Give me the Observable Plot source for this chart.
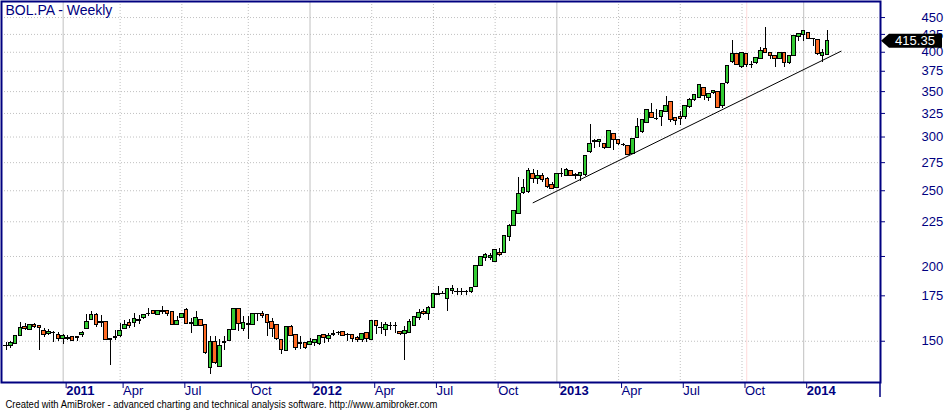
<!DOCTYPE html>
<html><head><meta charset="utf-8">
<script src="https://cdn.jsdelivr.net/npm/d3@7"></script>
<script src="https://cdn.jsdelivr.net/npm/@observablehq/plot@0.6"></script>
<style>body{margin:0;background:#fff;} #chart{width:949px;height:411px;}</style>
</head><body><div id="chart"></div>
<script>
// ---- data (weekly bars, Friday dates) ----
const title = "BOL.PA - Weekly";
const footer = "Created with AmiBroker - advanced charting and technical analysis software. http://www.amibroker.com";
const firstWeek = "2010-10-15";
const opens = [
147.4,147.5,148.5,152.8,157.6,155.7,158.6,157.9,155.5,153.8,
154.2,153.3,151.2,151.9,152.4,151.9,153.1,156.2,161.1,164.1,
159.7,160.3,150.5,151.7,152.6,156.2,159.5,159.4,160.6,162.3,
164.4,166.3,163.8,165.5,166.3,165.7,158.6,162.3,166.5,159.3,
158.0,161.2,158.6,137.0,149.8,137.4,149.3,150.0,155.9,167.4,
156.6,158.7,158.4,164.4,164.6,164.0,160.3,158.5,150.4,145.3,
157.6,153.4,148.8,149.3,148.0,149.0,148.5,153.3,151.2,153.4,
154.1,154.8,153.1,153.3,151.9,150.7,154.0,150.5,160.6,156.7,
155.7,157.8,158.1,154.8,153.6,154.1,157.7,162.3,165.7,164.8,
168.0,175.4,175.9,173.1,177.7,177.0,177.3,177.0,177.2,180.5,
193.5,199.3,199.3,196.3,202.5,202.4,213.5,221.6,231.2,248.2,
248.7,264.8,260.0,262.4,260.3,254.5,252.4,264.5,262.6,266.9,
263.5,262.6,263.5,284.9,294.7,295.3,292.5,289.2,303.3,296.5,
292.2,291.2,283.0,299.2,305.0,314.8,325.7,318.8,320.9,326.9,
338.0,320.2,321.6,320.9,332.2,340.7,342.7,354.5,342.7,348.4,
350.0,333.0,360.1,386.7,397.9,381.1,397.4,383.5,385.4,391.2,
403.8,399.3,395.2,391.2,399.3,385.4,395.6,421.0,424.6,427.1,
419.0,416.3,394.3,396.5];
const highs = [
149.6,150.1,153.2,159.7,159.1,158.9,159.4,158.3,156.5,156.2,
155.1,154.3,153.5,152.8,152.6,152.2,155.1,164.1,165.9,164.8,
163.7,160.5,151.3,155.5,159.4,160.9,161.5,164.9,163.7,164.5,
167.4,166.5,166.5,168.7,166.6,166.0,163.1,165.0,167.4,162.2,
165.9,161.5,158.9,152.4,152.4,150.8,152.4,156.3,167.6,167.8,
163.2,163.2,164.8,164.8,166.0,164.4,162.3,158.8,150.6,157.8,
158.0,153.6,152.3,149.5,151.5,151.0,153.2,153.5,154.2,155.5,
155.0,155.0,154.0,153.5,152.5,154.0,154.2,160.8,160.8,160.1,
160.0,160.0,159.9,155.2,157.7,161.6,163.2,166.9,166.9,168.5,
176.6,180.5,177.6,179.2,181.0,179.4,179.4,178.0,180.3,193.8,
200.0,202.0,202.2,205.0,205.2,214.8,222.8,233.8,261.2,259.7,
269.9,269.0,267.5,264.8,261.5,257.5,265.0,269.9,269.9,267.5,
264.8,266.0,282.0,313.0,297.9,296.8,293.0,306.0,304.0,297.5,
293.0,291.8,298.0,319.1,317.5,329.5,336.5,329.0,328.0,344.2,
339.0,321.0,327.3,334.0,341.5,347.0,359.0,355.0,348.0,351.0,
350.5,360.0,383.0,416.3,398.5,400.0,398.0,387.0,392.5,406.1,
435.5,400.0,396.0,400.0,400.0,396.0,423.0,426.0,430.0,428.0,
419.5,416.5,403.3,430.7];
const lows = [
145.6,146.5,148.2,152.5,155.5,155.5,156.4,145.3,152.1,152.9,
149.5,149.8,148.5,150.5,149.8,150.1,151.8,156.0,160.8,156.9,
157.0,150.5,138.2,150.5,151.9,156.2,156.6,157.0,159.0,161.6,
163.3,164.0,163.6,164.4,163.3,158.0,158.4,161.8,158.7,154.1,
157.8,157.7,143.5,133.8,138.5,137.0,145.3,149.8,155.7,155.1,
155.3,150.7,158.2,160.5,161.9,152.5,151.9,150.5,143.3,145.0,
152.6,145.5,145.8,146.0,147.8,147.5,148.0,149.0,149.2,152.2,
153.2,152.3,150.0,149.2,149.3,149.5,149.6,150.2,153.6,153.3,
152.2,155.8,153.8,153.0,140.5,153.8,157.5,161.2,163.9,160.9,
167.7,175.0,175.8,165.8,175.8,175.3,175.3,175.0,176.5,180.2,
193.0,196.8,197.5,196.0,200.2,202.0,210.2,221.4,230.6,247.0,
248.0,255.9,255.3,257.0,252.1,251.0,252.0,261.2,262.0,262.0,
260.0,258.3,262.0,284.0,288.7,290.0,288.0,288.5,286.9,291.0,
290.5,282.0,282.5,298.0,304.0,314.0,319.0,317.0,311.2,326.0,
315.0,311.8,311.8,318.8,331.0,339.0,342.0,339.5,338.0,347.0,
330.0,331.0,359.0,385.0,382.0,379.0,379.7,378.9,384.0,390.0,
398.0,389.8,380.1,390.0,380.0,384.0,395.0,415.0,415.0,418.0,
408.2,396.0,386.6,396.0];
const closes = [
147.8,149.2,152.8,157.0,156.2,158.5,157.4,156.9,153.1,155.0,
154.4,150.9,152.8,151.2,150.0,152.1,154.3,160.3,164.1,158.3,
160.0,150.7,151.0,152.1,155.4,158.6,157.9,161.5,161.2,164.0,
164.7,164.4,166.3,166.2,164.4,158.6,160.9,164.6,158.9,159.7,
162.4,157.9,143.9,149.8,139.2,147.8,149.8,156.0,167.4,159.0,
159.5,159.0,164.6,164.6,163.6,159.8,156.6,151.2,145.5,157.6,
152.9,146.5,149.2,146.5,149.8,150.5,152.9,151.5,152.9,153.8,
154.4,152.6,153.4,151.2,150.5,153.8,150.9,160.6,157.9,157.0,
158.6,158.2,157.7,153.6,155.5,160.3,163.0,165.2,164.4,168.2,
176.3,176.2,176.3,179.0,179.2,177.4,177.1,177.2,179.7,193.6,
199.8,200.9,200.6,204.6,201.1,214.5,221.9,233.0,247.4,252.1,
266.9,260.0,262.4,259.6,253.0,251.6,264.8,265.0,268.0,262.6,
263.0,265.7,281.4,293.2,295.6,296.5,289.2,305.7,296.5,292.5,
291.5,282.7,297.5,310.1,317.3,329.0,320.2,319.4,327.5,333.8,
317.3,317.0,318.9,333.0,340.7,346.2,358.5,345.0,347.5,350.8,
331.3,359.4,382.4,397.9,383.7,399.3,383.2,383.0,392.0,401.4,
399.3,395.2,391.2,399.3,385.9,395.2,422.0,425.3,429.2,418.7,
418.5,397.9,398.7,415.35];

const yTicks = [150,175,200,225,250,275,300,325,350,375,400,425,450];
const xTickDates = ["2011-01-07","2011-04-01","2011-07-01","2011-10-07","2012-01-06","2012-04-06","2012-07-06","2012-10-05","2013-01-04","2013-04-05","2013-07-05","2013-10-04","2014-01-03"];
const xTickLabels = ["2011","Apr","Jul","Oct","2012","Apr","Jul","Oct","2013","Apr","Jul","Oct","2014"];
const trendDates = ["2012-11-30","2014-02-27"];
const trendPrices = [240.0, 401.4];
const selectedBarDate = "2013-10-11";
const xDomain = ["2010-10-08T02:00Z","2014-04-26T06:00Z"];
const yDomain = [130.4, 475.2];

// ---- styles ----
const navy = "#000080";
const upFill = "#33cc33";
const downFill = "#ff6a22";
const gridColor = "#c0c0c0";
const font = "'Liberation Sans', Arial, sans-serif";

// ---- build tables ----
const parse = s => new Date(s.length === 10 ? s + "T00:00Z" : s);
const start = parse(firstWeek);
const candles = opens.map((o, i) => ({
  date: d3.utcDay.offset(start, 7 * i),
  open: o, high: highs[i], low: lows[i], close: closes[i]
}));
const lastClose = closes[closes.length - 1];
const ticks = xTickDates.map((d, i) => ({date: parse(d), label: xTickLabels[i], year: /^\d{4}$/.test(xTickLabels[i])}));
const yearTicks = ticks.filter(t => t.year).map(t => t.date);
const qTicks = ticks.filter(t => !t.year).map(t => t.date);
const labelOf = new Map(ticks.map(t => [+t.date, t.label]));
const trend = trendDates.map((d, i) => ({date: parse(d), price: trendPrices[i]}));
const halfBody = 62; // hours

const plot = Plot.plot({
  width: 949, height: 411,
  marginLeft: 1, marginTop: 1, marginRight: 69, marginBottom: 29,
  style: {fontFamily: font, background: "#fff", overflow: "visible"},
  x: {type: "utc", domain: xDomain.map(parse)},
  y: {type: "log", domain: yDomain},
  marks: [
    Plot.gridY(yTicks, {stroke: gridColor, strokeOpacity: 1, strokeDasharray: "1,2"}),
    Plot.ruleX(qTicks, {stroke: gridColor, strokeDasharray: "1,2"}),
    Plot.ruleX(yearTicks, {stroke: gridColor}),
    Plot.ruleX([parse(selectedBarDate)], {stroke: "#ffdada"}),
    Plot.ruleX(candles, {x: "date", y1: "low", y2: "high", stroke: "#000", strokeWidth: 1, shapeRendering: "crispEdges"}),
    Plot.rect(candles, {
      x1: d => d3.utcHour.offset(d.date, -halfBody),
      x2: d => d3.utcHour.offset(d.date, halfBody),
      y1: "open", y2: "close",
      fill: d => d.close >= d.open ? upFill : downFill,
      stroke: "#000", strokeWidth: 1, shapeRendering: "crispEdges"
    }),
    Plot.line(trend, {x: "date", y: "price", stroke: "#000", strokeWidth: 1}),
    Plot.frame({stroke: navy, strokeWidth: 2}),
    Plot.axisY(yTicks, {anchor: "right", tickSize: 4, tickPadding: 37, fontSize: 13, color: navy, label: null, tickFormat: d => String(d)}),
    Plot.axisX(yearTicks, {anchor: "bottom", tickSize: 6, tickPadding: -3, dx: 3, textAnchor: "start", fontSize: 13, fontWeight: "bold", color: navy, label: null, tickFormat: d => labelOf.get(+d)}),
    Plot.axisX(qTicks, {anchor: "bottom", tickSize: 6, tickPadding: -3, dx: 3, textAnchor: "start", fontSize: 13, color: navy, label: null, tickFormat: d => labelOf.get(+d)}),
    Plot.text([title], {frameAnchor: "top-left", dx: 4, dy: 4, lineAnchor: "top", textAnchor: "start", fontSize: 14, fill: navy}),
    Plot.text([footer], {frameAnchor: "bottom-left", dx: 4, dy: 22, lineAnchor: "middle", textAnchor: "start", fontSize: 10, fill: "#000"})
  ]
});

const svg = d3.select(plot);
// footer width as in the reference
svg.selectAll("text").filter(function() { return this.textContent === footer; })
  .attr("textLength", 432).attr("lengthAdjust", "spacingAndGlyphs");
// AmiBroker draws the "200" label a little below its tick
svg.selectAll("text").filter(function() { return this.textContent === "200"; })
  .attr("transform", function() { return (this.getAttribute("transform") || "") + " translate(0,10)"; });

// right axis line extension and last-price marker, positioned with the plot's scales
const xR = plot.scale("x").range[1];
const yB = plot.scale("y").range[0];
svg.append("line").attr("x1", xR).attr("x2", xR).attr("y1", yB).attr("y2", yB + 15)
  .attr("stroke", navy).attr("stroke-width", 1.5);
const yL = plot.scale("y").apply(lastClose);
const g = svg.append("g");
g.append("path")
  .attr("d", `M${xR + 1},${yL} L${xR + 9},${yL - 7} L${xR + 62},${yL - 7} L${xR + 62},${yL + 7} L${xR + 9},${yL + 7} Z`)
  .attr("fill", "#000");
g.append("text").attr("x", xR + 35).attr("y", yL).attr("dy", "0.35em")
  .attr("text-anchor", "middle").attr("fill", "#fff")
  .attr("font-family", font).attr("font-size", 13).text(d3.format(".2f")(lastClose));

document.getElementById("chart").appendChild(plot);
</script>
</body></html>
